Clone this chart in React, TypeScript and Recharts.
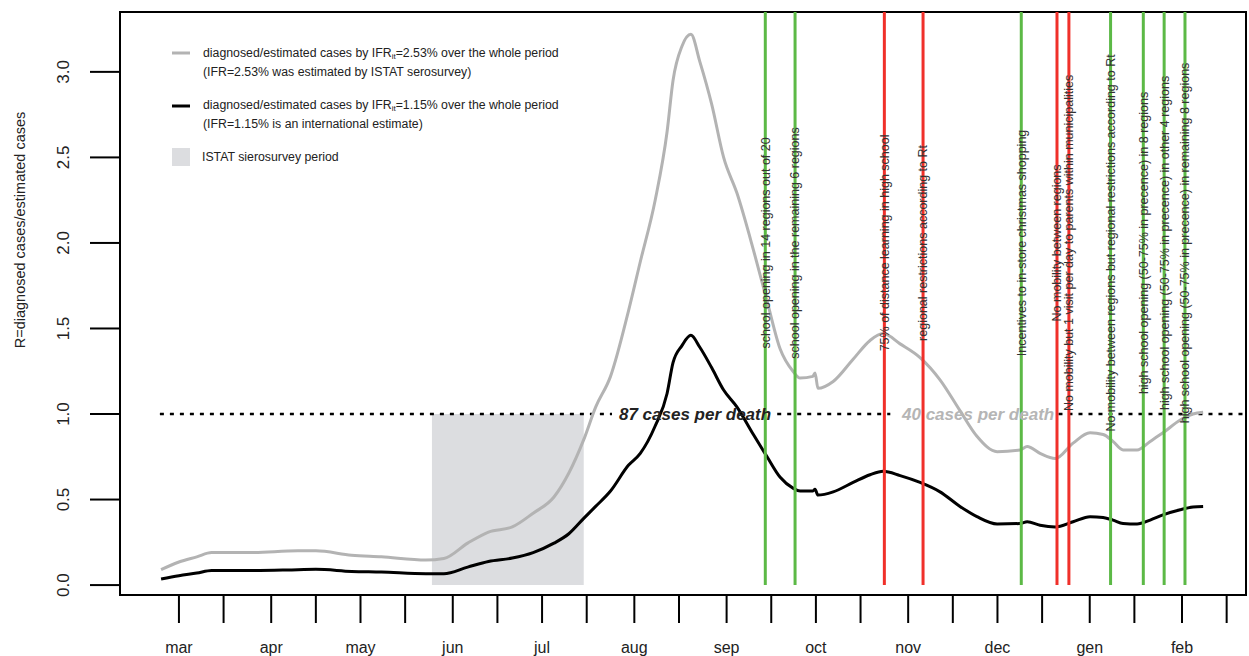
import React from "react";
import {
  LineChart,
  Line,
  XAxis,
  YAxis,
  ReferenceArea,
  ReferenceLine,
  ReferenceDot,
  Legend,
} from "recharts";

const FONT = '"Liberation Sans", Arial, Helvetica, sans-serif';

// x = days since 1 March 2020
const days = [
  -6, 0, 6, 11, 24, 40, 46, 58, 68, 83, 89, 97, 104, 112, 119, 126, 131, 136,
  140, 145, 151, 155, 160, 164, 166, 169, 172, 175, 179, 183, 187.5, 193, 197.6,
  202, 206.3, 208.7, 213, 213.7, 214.7, 219.8, 226.5, 232.2, 236.6, 242.3, 249,
  255.7, 262.4, 268.1, 274.9, 282.6, 285, 289.3, 294.4, 300.4, 306.1, 310.5,
  313.8, 317.2, 321.9, 326.3, 330.6, 336.4, 340.7, 344.1,
];
const grayValues = [
  0.09, 0.135, 0.165, 0.19, 0.19, 0.2, 0.2, 0.175, 0.165, 0.146, 0.155, 0.245,
  0.31, 0.34, 0.42, 0.515, 0.655, 0.85, 1.04, 1.22, 1.6, 1.89, 2.25, 2.65, 2.95,
  3.15, 3.22, 3.06, 2.81, 2.5, 2.29, 1.96, 1.66, 1.38, 1.25, 1.21, 1.22, 1.24,
  1.15, 1.19, 1.32, 1.43, 1.47, 1.41, 1.33, 1.2, 1.02, 0.87, 0.78, 0.79, 0.81,
  0.77, 0.74, 0.83, 0.89, 0.88, 0.84, 0.79, 0.79, 0.84, 0.89, 0.965, 1.0, 1.01,
];
const blackValues = [
  0.035, 0.055, 0.07, 0.085, 0.085, 0.09, 0.092, 0.08, 0.076, 0.066, 0.066,
  0.105, 0.138, 0.158, 0.19, 0.245, 0.3, 0.39, 0.46, 0.55, 0.7, 0.77, 0.93,
  1.12, 1.3, 1.4, 1.46, 1.39, 1.27, 1.14, 1.04, 0.88, 0.75, 0.63, 0.567, 0.55,
  0.55, 0.56, 0.526, 0.545, 0.6, 0.645, 0.665, 0.64, 0.6, 0.545, 0.46, 0.4,
  0.357, 0.36, 0.37, 0.35, 0.34, 0.37, 0.4, 0.395, 0.38, 0.36, 0.357, 0.38, 0.41,
  0.44, 0.456, 0.46,
];

const monthStarts = [0, 31, 61, 92, 122, 153, 184, 214, 245, 275, 306, 337];
const monthLabels = ["mar", "apr", "may", "jun", "jul", "aug", "sep", "oct", "nov", "dec", "gen", "feb"];
const midMonths = [15, 46, 76, 107, 137, 168, 199, 229, 260, 290, 321, 352];
const yTicks = [0, 0.5, 1, 1.5, 2, 2.5, 3];

const surveyPeriod = [85, 136];
const dottedSegments = [
  [-6.4, 145.5],
  [201, 239],
  [295.5, 358.5],
];

const eventDays = [197, 207, 237, 250, 283, 295, 299, 313, 324, 331, 338];
const eventKinds = ["open", "open", "close", "close", "open", "close", "close", "open", "open", "open", "open"];
const eventLabels = [
  "school opening in 14 regions out of 20",
  "school opening in the remaining 6 regions",
  "75% of distance learning in high school",
  "regional restrictions according to Rt",
  "Incentives to in-store christmas shopping",
  "No mobility between regions",
  "No mobility but 1 visit per day to parents within municipalities",
  "No mobility between regions but regional restrictions according to Rt",
  "high school opening (50-75% in precence) in 8 regions",
  "high school opening (50-75% in precence) in other 4 regions",
  "high school opening (50-75% in precence) in remaining 8 regions",
];

const X_DOMAIN = [-19.8, 358.5];
const Y_DOMAIN = [-0.058, 3.35];
const GREEN = "#5cb946";
const RED = "#f0302a";
const GRAY = "#b3b3b3";

const data = days.map((d, i) => ({ day: d, gray: grayValues[i], black: blackValues[i] }));
const xTicks = [...monthStarts, ...midMonths].sort((a, b) => a - b);

function XTick({ x, y, payload }: any) {
  const idx = monthStarts.indexOf(payload.value);
  if (idx < 0) return null;
  return (
    <text x={x} y={y + 24} textAnchor="middle" dominantBaseline="central" fontSize={16} fill="#222" fontFamily={FONT}>
      {monthLabels[idx]}
    </text>
  );
}

function YTick({ x, y, payload }: any) {
  const tx = x - 26;
  return (
    <text
      x={tx}
      y={y}
      transform={`rotate(-90, ${tx}, ${y})`}
      textAnchor="middle"
      dominantBaseline="central"
      fontSize={17}
      fill="#222"
      fontFamily={FONT}
    >
      {payload.value.toFixed(1)}
    </text>
  );
}

function YLabel({ viewBox }: any) {
  const cx = viewBox.x + 20;
  const cy = viewBox.y + 218;
  return (
    <text
      x={cx}
      y={cy}
      transform={`rotate(-90, ${cx}, ${cy})`}
      textAnchor="middle"
      dominantBaseline="central"
      fontSize={14.5}
      fill="#222"
      fontFamily={FONT}
    >
      R=diagnosed cases/estimated cases
    </text>
  );
}

function LegendBox() {
  const t = { fontSize: 12.3, fill: "#222", fontFamily: FONT, dominantBaseline: "central" as const };
  return (
    <svg width={460} height={140}>
      <line x1={7} x2={25} y1={17} y2={17} stroke={GRAY} strokeWidth={3} />
      <text x={38} y={17} {...t}>
        diagnosed/estimated cases by IFR
        <tspan fontSize={8} dy={3}>it</tspan>
        <tspan dy={-3}>=2.53% over the whole period</tspan>
      </text>
      <text x={38} y={36} {...t}>(IFR=2.53% was estimated by ISTAT serosurvey)</text>
      <line x1={7} x2={25} y1={70} y2={70} stroke="#000" strokeWidth={3} />
      <text x={38} y={69} {...t}>
        diagnosed/estimated cases by IFR
        <tspan fontSize={8} dy={3}>it</tspan>
        <tspan dy={-3}>=1.15% over the whole period</tspan>
      </text>
      <text x={38} y={88} {...t}>(IFR=1.15% is an international estimate)</text>
      <rect x={7} y={112} width={18} height={18} fill="#dcdde0" />
      <text x={37} y={121} {...t}>ISTAT sierosurvey period</text>
    </svg>
  );
}

export default function App() {
  return (
    <div style={{ position: "absolute", left: 0, top: 0, width: 1249, height: 656, background: "#fff", fontFamily: FONT }}>
      <LineChart width={1249} height={656} data={data} margin={{ top: 12, right: 3, bottom: 0, left: 0 }}>
        <XAxis
          dataKey="day"
          type="number"
          domain={X_DOMAIN}
          allowDataOverflow
          ticks={xTicks}
          interval={0}
          height={61}
          tickSize={28}
          tickMargin={0}
          tick={<XTick />}
          axisLine={{ stroke: "#000", strokeWidth: 2 }}
          tickLine={{ stroke: "#000", strokeWidth: 2 }}
        />
        <YAxis
          type="number"
          domain={Y_DOMAIN}
          allowDataOverflow
          ticks={yTicks}
          width={120}
          tickSize={30}
          tickMargin={0}
          tick={<YTick />}
          axisLine={{ stroke: "#000", strokeWidth: 2 }}
          tickLine={{ stroke: "#000", strokeWidth: 2 }}
          label={<YLabel />}
        />

        <ReferenceArea x1={surveyPeriod[0]} x2={surveyPeriod[1]} y1={0} y2={1} fill="#dcdde0" fillOpacity={1} stroke="none" />

        {dottedSegments.map(([a, b], i) => (
          <ReferenceLine
            key={"dot" + i}
            segment={[
              { x: a, y: 1 },
              { x: b, y: 1 },
            ]}
            stroke="#000"
            strokeWidth={2.5}
            strokeDasharray="4 6"
          />
        ))}

        <Line type="monotone" dataKey="gray" stroke={GRAY} strokeWidth={3} dot={false} isAnimationActive={false} />
        <Line type="monotone" dataKey="black" stroke="#000" strokeWidth={3} dot={false} isAnimationActive={false} />

        {eventDays.map((d, i) => (
          <ReferenceLine
            key={"ev" + i}
            segment={[
              { x: d, y: 0 },
              { x: d, y: Y_DOMAIN[1] },
            ]}
            stroke={eventKinds[i] === "open" ? GREEN : RED}
            strokeWidth={3}
          />
        ))}

        {eventDays.map((d, i) => (
          <ReferenceDot
            key={"lab" + i}
            x={d}
            y={2}
            r={0}
            fill="none"
            stroke="none"
            label={{
              value: eventLabels[i],
              position: "center",
              angle: -90,
              fontSize: 12.5,
              fill: "#333",
              fontFamily: FONT,
            }}
          />
        ))}

        <ReferenceDot
          x={173.4}
          y={1}
          r={0}
          fill="none"
          stroke="none"
          label={{ value: "87 cases per death", position: "center", fontSize: 17, fontWeight: "bold", fontStyle: "italic", fill: "#222", fontFamily: FONT }}
        />
        <ReferenceDot
          x={268.5}
          y={1}
          r={0}
          fill="none"
          stroke="none"
          label={{ value: "40 cases per death", position: "center", fontSize: 17, fontWeight: "bold", fontStyle: "italic", fill: "#b5b5b5", fontFamily: FONT }}
        />

        {/* plot frame */}
        <ReferenceArea
          x1={X_DOMAIN[0]}
          x2={X_DOMAIN[1]}
          y1={Y_DOMAIN[0]}
          y2={Y_DOMAIN[1]}
          fill="none"
          stroke="#000"
          strokeWidth={2}
          ifOverflow="visible"
        />

        <Legend
          layout="horizontal"
          verticalAlign="middle"
          align="center"
          content={<LegendBox />}
          wrapperStyle={{ left: 165, top: 36, width: 460, height: 140 }}
        />
      </LineChart>
    </div>
  );
}
